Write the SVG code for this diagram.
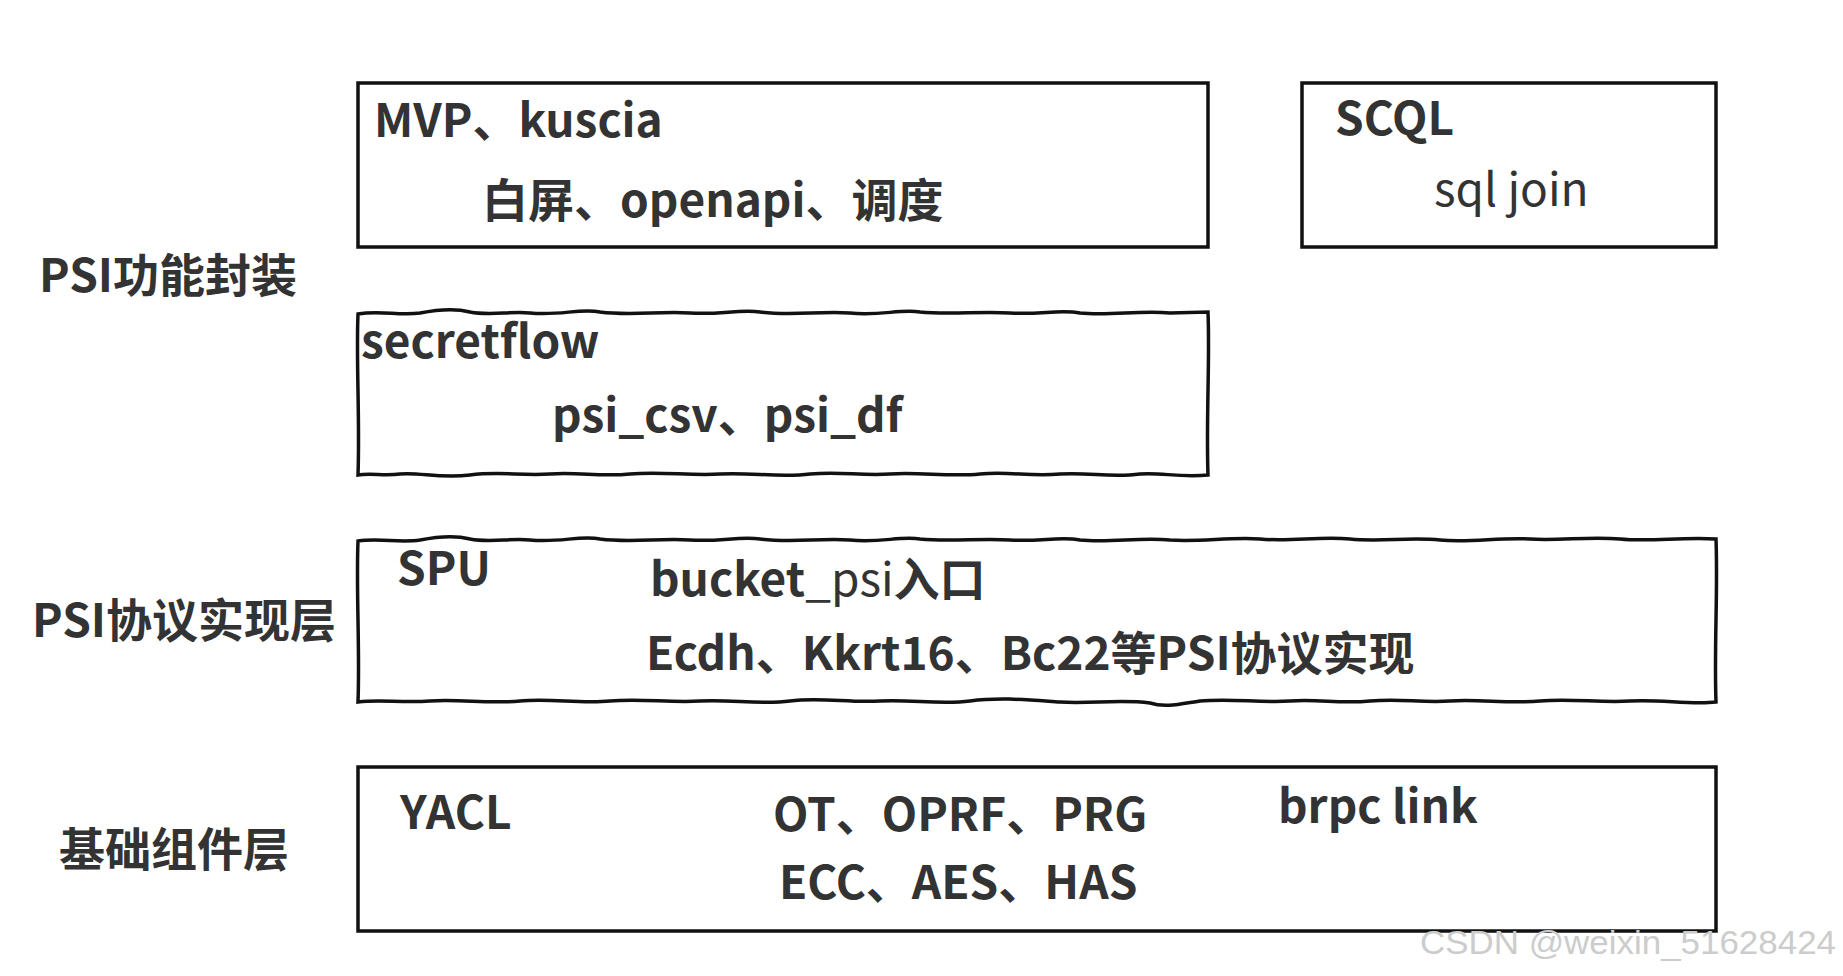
<svg xmlns="http://www.w3.org/2000/svg" width="1843" height="976" viewBox="0 0 1843 976">
<style>
.t{font-family:"Noto Sans CJK SC","Noto Sans",sans-serif;font-weight:bold;font-size:46px;fill:#333}
.r{font-weight:normal}
.box{fill:none;stroke:#111;stroke-width:3.5}
.wm{font-family:"Liberation Sans",sans-serif;font-size:33px;fill:#ccc}
</style>
<rect width="1843" height="976" fill="#fff"/>
<g id="labels">
<text class="t" x="39" y="292">PSI功能封装</text>
<text class="t" x="32" y="637">PSI协议实现层</text>
<text class="t" x="59" y="866">基础组件层</text>
</g>
<g id="mvp">
<rect class="box" x="358" y="83" width="850" height="164"/>
<text class="t" x="374" y="137">MVP、kuscia</text>
<text class="t" x="482" y="217">白屏、openapi、调度</text>
</g>
<g id="scql">
<rect class="box" x="1302" y="83" width="414" height="164"/>
<text class="t" x="1335" y="135">SCQL</text>
<text class="t r" x="1434" y="206">sql join</text>
</g>
<g id="secretflow">
<path class="box" d="M358,314 C380,310 400,316 420,313 C440,309 455,308 470,312 C490,316 510,311 530,313 C560,316 580,308 600,312 C630,316 660,311 690,313 C720,315 740,309 760,312 C790,316 820,311 850,313 C880,316 900,309 920,312 C950,315 980,311 1010,313 C1040,315 1060,309 1080,313 C1110,316 1140,310 1170,313 L1208,312 C1210,360 1206,420 1208,475 C1180,478 1160,472 1140,474 C1110,478 1090,472 1060,474 C1030,477 1010,471 980,474 C950,477 920,472 890,474 C860,476 840,471 810,474 C780,478 750,472 720,474 C690,476 660,471 630,474 C600,477 580,472 550,474 C520,476 500,471 470,475 C440,479 420,472 400,474 C385,476 370,473 358,475 C360,420 356,360 358,314 Z"/>
<text class="t" x="361" y="358">secretflow</text>
<text class="t" x="552" y="432">psi_csv、psi_df</text>
</g>
<g id="spu">
<path class="box" d="M358,541 C380,538 400,543 420,540 C440,536 455,535 470,539 C490,543 510,538 530,540 C560,543 580,535 600,539 C630,543 660,538 690,540 C720,542 740,536 760,539 C790,543 820,538 850,540 C880,543 900,536 920,539 C950,542 980,538 1010,540 C1040,542 1060,536 1080,540 C1110,543 1140,537 1170,540 C1200,542 1230,537 1260,539 C1290,542 1320,536 1350,539 C1380,542 1410,537 1440,540 C1470,543 1500,537 1530,539 C1560,541 1590,536 1620,539 C1650,542 1680,537 1716,539 C1718,590 1714,650 1716,702 C1690,705 1660,699 1630,701 C1600,703 1570,698 1540,701 C1510,704 1480,699 1450,701 C1420,703 1400,698 1370,701 C1340,704 1320,699 1290,701 C1260,703 1230,698 1200,701 C1180,704 1165,708 1150,703 C1120,699 1090,704 1060,702 C1030,700 1000,697 970,701 C940,705 910,699 880,701 C850,703 820,697 790,701 C760,705 730,699 700,701 C670,703 640,698 610,701 C580,704 550,698 520,701 C490,704 460,699 430,701 C400,703 380,699 358,702 C360,650 356,590 358,541 Z"/>
<text class="t" x="397" y="585">SPU</text>
<text class="t" x="650" y="596">bucket<tspan class="r">_psi</tspan>入口</text>
<text class="t" x="646" y="670">Ecdh、Kkrt16、Bc22等PSI协议实现</text>
</g>
<g id="yacl">
<rect class="box" x="358" y="767" width="1358" height="164"/>
<text class="t" x="400" y="829">YACL</text>
<text class="t" x="773" y="831">OT、OPRF、PRG</text>
<text class="t" x="779" y="899">ECC、AES、HAS</text>
<text class="t" x="1278" y="823">brpc link</text>
</g>
<g id="connectors"/>
<text class="wm" x="1420" y="954" textLength="416" lengthAdjust="spacingAndGlyphs">CSDN @weixin_51628424</text>
</svg>
